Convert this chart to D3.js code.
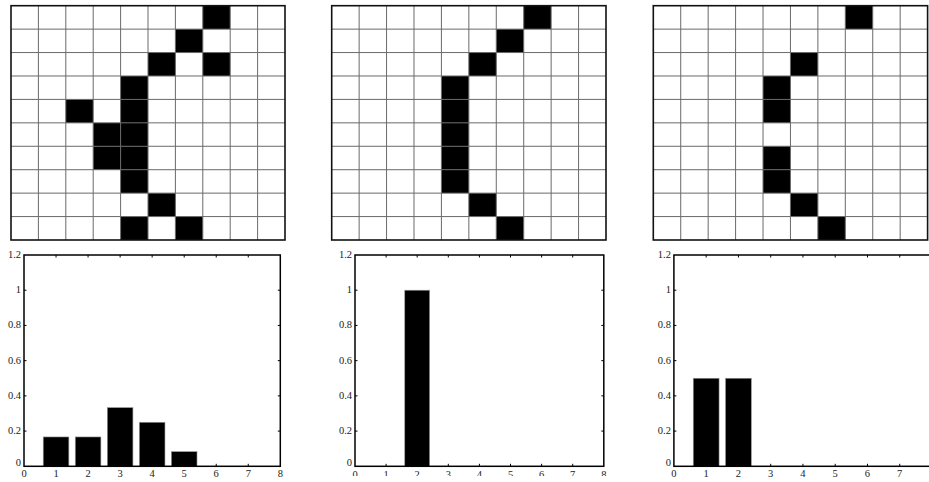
<!DOCTYPE html>
<html><head><meta charset="utf-8">
<script src="https://cdn.jsdelivr.net/npm/d3@7"></script>
<style>html,body{margin:0;padding:0;background:#fff;}svg{display:block;}
text{font-family:"Liberation Serif","Times New Roman","DejaVu Serif",serif;}</style>
</head><body>
<svg id="c" width="929" height="482"></svg>
<script>
// Black cells [row, col] of each 10x10 grid
const cells1 = [[0,7],[1,6],[2,5],[2,7],[3,4],[4,2],[4,4],[5,3],[5,4],[6,3],[6,4],[7,4],[8,5],[9,4],[9,6]];
const cells2 = [[0,7],[1,6],[2,5],[3,4],[4,4],[5,4],[6,4],[7,4],[8,5],[9,6]];
const cells3 = [[0,7],[2,5],[3,4],[4,4],[6,4],[7,4],[8,5],[9,6]];
// Bar values (category -> height)
const cats = [1,2,3,4,5,6,7];
const bars1 = [0.1667,0.1667,0.3333,0.25,0.0833,0,0];
const bars2 = [0,1,0,0,0,0,0];
const bars3 = [0.5,0.5,0,0,0,0,0];
const xTicks = [0,1,2,3,4,5,6,7,8];
const yTicks = [0,0.2,0.4,0.6,0.8,1,1.2];

const W = 929;
const svg = d3.select("#c");
const nGrid = 10;

function drawGrid(cells, left, right, top, bottom) {
  const x = d3.scaleLinear().domain([0, nGrid]).range([left, right]);
  const y = d3.scaleLinear().domain([0, nGrid]).range([top, bottom]);
  const g = svg.append("g");
  g.selectAll("rect.cell").data(cells).join("rect")
    .attr("x", d => x(d[1])).attr("y", d => y(d[0]))
    .attr("width", x(1) - x(0)).attr("height", y(1) - y(0))
    .attr("fill", "#000");
  const idx = d3.range(1, nGrid);
  g.selectAll("line.v").data(idx).join("line")
    .attr("x1", d => x(d)).attr("x2", d => x(d)).attr("y1", top).attr("y2", bottom)
    .attr("stroke", "#6a6a6a").attr("stroke-width", 1);
  g.selectAll("line.h").data(idx).join("line")
    .attr("y1", d => y(d)).attr("y2", d => y(d)).attr("x1", left).attr("x2", right)
    .attr("stroke", "#6a6a6a").attr("stroke-width", 1);
  g.append("rect").attr("x", left).attr("y", top)
    .attr("width", right - left).attr("height", bottom - top)
    .attr("fill", "none").attr("stroke", "#111").attr("stroke-width", 1.6);
}

drawGrid(cells1, 11, 285, 5.7, 240);
drawGrid(cells2, 331.7, 606, 5.7, 240);
drawGrid(cells3, 653.3, 927.6, 5.7, 240);

function drawBars(vals, x0, x8, clipBottom) {
  const top = 255, bottom = 466.3;
  const x = d3.scaleLinear().domain([0, 8]).range([x0, x8]);
  const y = d3.scaleLinear().domain([0, 1.2]).range([bottom, top]);
  const g = svg.append("g");
  let tg = g;
  if (clipBottom) {
    const id = "clip" + Math.round(x0);
    svg.append("clipPath").attr("id", id).append("rect")
      .attr("x", x0 - 40).attr("y", 0).attr("width", 400).attr("height", clipBottom);
    tg = g.append("g").attr("clip-path", `url(#${id})`);
  }
  const bw = x(0.8) - x(0);
  g.selectAll("rect.bar").data(cats.map((c, i) => ({c, v: vals[i]})).filter(d => d.v > 0)).join("rect")
    .attr("x", d => x(d.c) - bw / 2).attr("y", d => y(d.v))
    .attr("width", bw).attr("height", d => y(0) - y(d.v))
    .attr("fill", "#000").attr("stroke", "#999").attr("stroke-width", 0.6);
  // axes box
  g.append("rect").attr("x", x0).attr("y", top).attr("width", x8 - x0).attr("height", bottom - top)
    .attr("fill", "none").attr("stroke", "#000").attr("stroke-width", 1.5);
  // ticks (inside, mirrored)
  const tl = 2.5;
  g.selectAll("line.xt").data(xTicks.slice(1, -1)).join("line")
    .attr("x1", d => x(d)).attr("x2", d => x(d)).attr("y1", bottom).attr("y2", bottom - tl)
    .attr("stroke", "#000");
  g.selectAll("line.xt2").data(xTicks.slice(1, -1)).join("line")
    .attr("x1", d => x(d)).attr("x2", d => x(d)).attr("y1", top).attr("y2", top + tl)
    .attr("stroke", "#000");
  g.selectAll("line.yt").data(yTicks.slice(1, -1)).join("line")
    .attr("x1", x0).attr("x2", x0 + tl).attr("y1", d => y(d)).attr("y2", d => y(d))
    .attr("stroke", "#000");
  g.selectAll("line.yt2").data(yTicks.slice(1, -1)).join("line")
    .attr("x1", x8).attr("x2", x8 - tl).attr("y1", d => y(d)).attr("y2", d => y(d))
    .attr("stroke", "#000");
  // labels (only those that fit in the window)
  tg.selectAll("text.xl").data(xTicks.filter(d => x(d) + 4 < W)).join("text")
    .attr("x", d => x(d)).attr("y", bottom + 11 + (clipBottom ? 1 : 0))
    .attr("text-anchor", "middle").attr("font-size", 10.5)
    .attr("fill", "#222").text(d => d);
  g.selectAll("text.yl").data(yTicks).join("text")
    .attr("x", x0 - 3).attr("y", d => y(d) + (d === 0 ? 0 : 3))
    .attr("text-anchor", "end").attr("font-size", 10.5)
    .attr("fill", "#222").text(d => d3.format("")(d));
}

drawBars(bars1, 24, 280.3, null);
drawBars(bars2, 355, 603.8, 476);
drawBars(bars3, 673.9, 932, null);
</script>
</body></html>
